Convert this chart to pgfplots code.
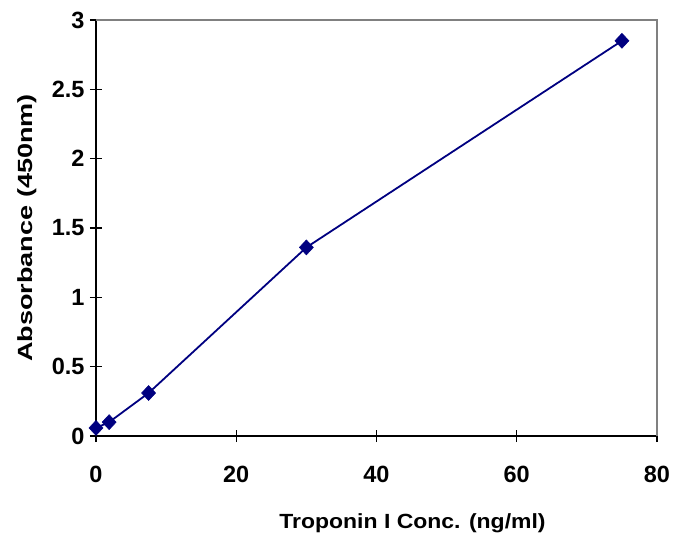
\documentclass[border=0pt]{standalone}
\usepackage{fontspec}
\setmainfont{Liberation Sans}
\usepackage{graphicx}
\usepackage{pgfplots}
\pgfplotsset{compat=1.18}
\definecolor{navyline}{RGB}{0,0,128}
\definecolor{frame}{RGB}{128,128,128}
\begin{document}
\begin{tikzpicture}
\path[use as bounding box] (0,0) rectangle (673pt,544pt);
\begin{axis}[
  at={(96pt,108pt)}, anchor=south west,
  scale only axis, width=561pt, height=416pt,
  xmin=0, xmax=80, ymin=0, ymax=3,
  axis x line=bottom, axis y line=left,
  axis line style={-, line width=1.6pt, black},
  xtick={0,20,40,60,80},
  ytick={0,0.5,1,1.5,2,2.5,3},
  tick align=center, major tick length=12pt,
  tick style={line width=1.2pt, black},
  /pgf/number format/assume math mode=true,
  ticklabel style={font=\fontsize{23.5}{26}\selectfont\bfseries},
  xticklabel style={yshift=-21pt},
  yticklabel style={xshift=-2pt},
  xlabel={\scalebox{1.12}[1]{Troponin I Conc. (ng/ml)}},
  ylabel={\scalebox{1.32}[1]{Absorbance (450nm)}},
  label style={font=\fontsize{20.5}{24}\selectfont\bfseries},
  xlabel style={yshift=-24pt, xshift=36pt},
  ylabel style={yshift=8pt},
  clip=false,
]
\draw[frame, line width=1.6pt] (rel axis cs:0,1) -- (rel axis cs:1,1) -- (rel axis cs:1,0);
\addplot[navyline, line width=1.8pt, mark=diamond*, mark size=7.5pt, mark options={xscale=1.25, fill=navyline, draw=navyline, line width=0.5pt}]
  coordinates {(0,0.058) (1.875,0.10) (7.5,0.31) (30,1.36) (75,2.85)};
\end{axis}
\end{tikzpicture}
\end{document}
